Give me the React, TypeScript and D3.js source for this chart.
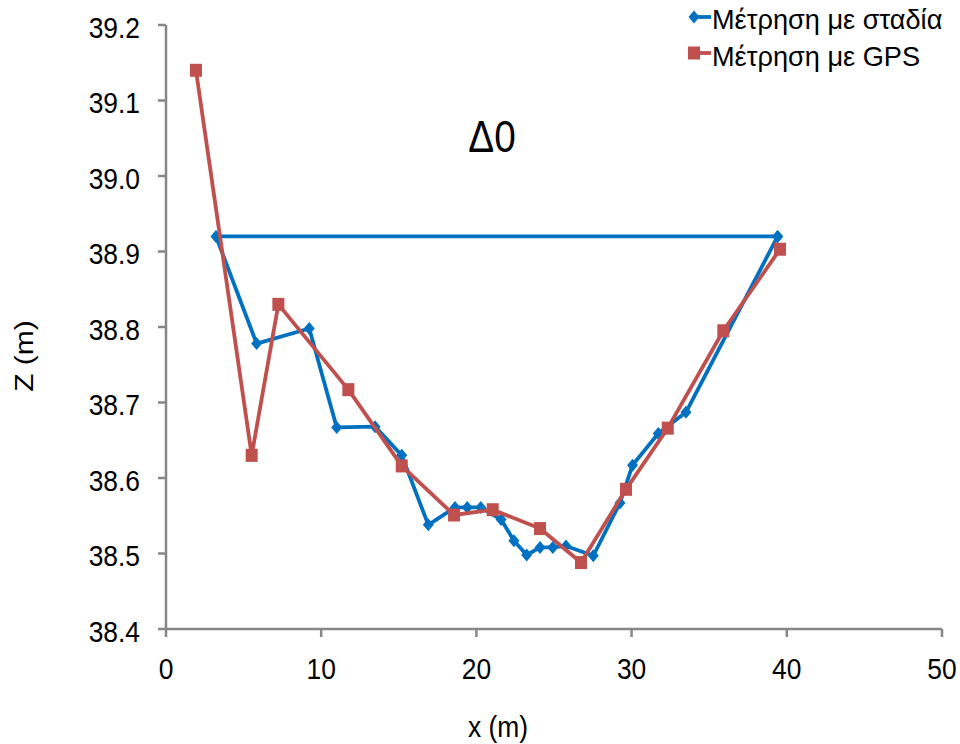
import React from "react";
import * as d3 from "d3";

// Cross-section Δ0: bed elevation Z against distance x, two survey methods
const stadiaX = [39.41, 3.22, 5.84, 9.23, 11.0, 13.47, 15.19, 16.9, 18.62, 19.41, 20.28, 21.59, 22.42, 23.24, 24.1, 24.92, 25.77, 27.53, 29.25, 30.06, 31.72, 33.5, 39.41];
const stadiaZ = [38.92, 38.92, 38.778, 38.798, 38.667, 38.668, 38.63, 38.538, 38.561, 38.561, 38.561, 38.545, 38.517, 38.498, 38.508, 38.508, 38.51, 38.497, 38.567, 38.617, 38.659, 38.687, 38.92];

const gpsX = [1.93, 5.52, 7.24, 11.75, 15.19, 18.56, 21.05, 24.1, 26.74, 29.64, 32.33, 35.91, 39.56];
const gpsZ = [39.14, 38.63, 38.83, 38.717, 38.616, 38.551, 38.558, 38.533, 38.488, 38.585, 38.666, 38.795, 38.903];

const xTicks = [0, 10, 20, 30, 40, 50];
const zTicks = [38.4, 38.5, 38.6, 38.7, 38.8, 38.9, 39.0, 39.1, 39.2];

const seriesNames = ["Μέτρηση με σταδία", "Μέτρηση με GPS"];
const sectionTitle = "Δ0";
const xTitle = "x (m)";
const zTitle = "Z (m)";

const W = 960;
const H = 744;
const BLUE = "#0070C0";
const RED = "#C0504D";
const AXIS = "#868686";
const FONT = "'Liberation Sans', Arial, sans-serif";
const SX = 0.88; // horizontal squeeze of the lettering

const x = d3.scaleLinear().domain([0, 50]).range([166, 942]);
const z = d3.scaleLinear().domain([38.4, 39.2]).range([629, 25]);

const line = d3
  .line<[number, number]>()
  .x((d) => x(d[0]))
  .y((d) => z(d[1]));

const Diamond = ({ cx, cy }: { cx: number; cy: number }) => (
  <path
    d={`M${cx},${cy - 6.5} L${cx + 5.5},${cy} L${cx},${cy + 6.5} L${cx - 5.5},${cy} Z`}
    fill={BLUE}
  />
);

const Square = ({ cx, cy }: { cx: number; cy: number }) => (
  <rect x={cx - 6} y={cy - 6.5} width={12} height={13} fill={RED} />
);

const Label = ({
  tx,
  ty,
  size,
  anchor = "middle",
  sx = SX,
  children,
}: {
  tx: number;
  ty: number;
  size: number;
  anchor?: string;
  sx?: number;
  children: React.ReactNode;
}) => (
  <text
    transform={`translate(${tx},${ty}) scale(${sx},1)`}
    fontSize={size}
    fontFamily={FONT}
    textAnchor={anchor as any}
    dominantBaseline="central"
    fill="#000"
  >
    {children}
  </text>
);

export default function App() {
  const stadia = stadiaX.map((v, i) => [v, stadiaZ[i]] as [number, number]);
  const gps = gpsX.map((v, i) => [v, gpsZ[i]] as [number, number]);

  return (
    <svg
      width={W}
      height={H}
      style={{ position: "absolute", left: 0, top: 0, background: "#fff" }}
    >
      <rect width={W} height={H} fill="#fff" />

      {/* axes */}
      <g stroke={AXIS} strokeWidth={2.5} fill="none">
        <line x1={x(0)} x2={x(0)} y1={z(39.2)} y2={z(38.4)} />
        <line x1={x(0)} x2={x(50)} y1={z(38.4)} y2={z(38.4)} />
        {zTicks.map((t) => (
          <line key={t} x1={x(0) - 8} x2={x(0)} y1={z(t)} y2={z(t)} />
        ))}
        {xTicks.map((t) => (
          <line key={t} x1={x(t)} x2={x(t)} y1={z(38.4)} y2={z(38.4) + 8} />
        ))}
      </g>

      {zTicks.map((t) => (
        <Label key={t} tx={140} ty={z(t) + 2} size={30} anchor="end">
          {t.toFixed(1)}
        </Label>
      ))}
      {xTicks.map((t) => (
        <Label key={t} tx={x(t)} ty={668} size={30}>
          {t}
        </Label>
      ))}

      <Label tx={498} ty={726} size={30}>
        {xTitle}
      </Label>
      <text
        transform={`translate(24,356) rotate(-90) scale(1,${SX})`}
        fontSize={30}
        fontFamily={FONT}
        textAnchor="middle"
        dominantBaseline="central"
      >
        {zTitle}
      </text>

      <Label tx={492} ty={137} size={44}>
        {sectionTitle}
      </Label>

      {/* series */}
      <path d={line(stadia) ?? ""} fill="none" stroke={BLUE} strokeWidth={3.8} strokeLinejoin="round" />
      {stadia.map((d, i) => (
        <Diamond key={i} cx={x(d[0])} cy={z(d[1])} />
      ))}
      <path d={line(gps) ?? ""} fill="none" stroke={RED} strokeWidth={3.8} strokeLinejoin="round" />
      {gps.map((d, i) => (
        <Square key={i} cx={x(d[0])} cy={z(d[1])} />
      ))}

      {/* legend */}
      <g>
        <line x1={690} x2={711} y1={17} y2={17} stroke={BLUE} strokeWidth={3.8} />
        <Diamond cx={694} cy={17} />
        <Label tx={712} ty={19} size={28} anchor="start" sx={0.97}>
          {seriesNames[0]}
        </Label>
        <line x1={690} x2={711} y1={53} y2={53} stroke={RED} strokeWidth={3.8} />
        <Square cx={694} cy={53} />
        <Label tx={712} ty={56} size={28} anchor="start" sx={0.97}>
          {seriesNames[1]}
        </Label>
      </g>
    </svg>
  );
}
